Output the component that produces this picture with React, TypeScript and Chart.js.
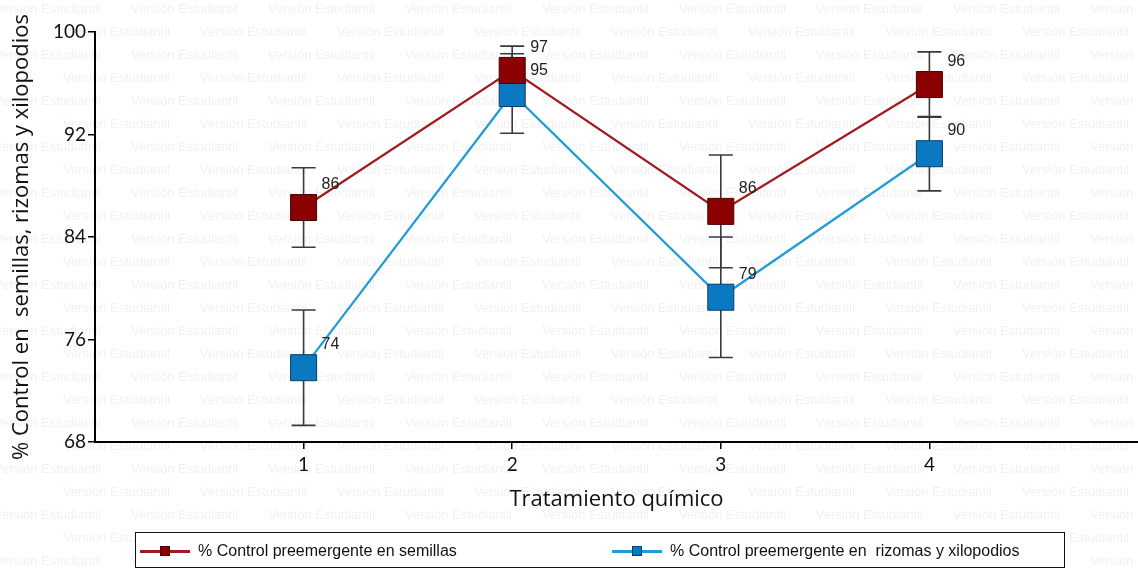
import React, { useEffect, useRef } from "react";
import { Chart, registerables } from "chart.js";

Chart.register(...registerables);

const categories = ["1", "2", "3", "4"];
const seedValues = [86.3, 97.0, 86.0, 95.9];
const seedErrors = [3.1, 1.9, 4.4, 2.55];
const seedLabels = ["86", "97", "86", "96"];
const rhizomeValues = [73.8, 95.2, 79.3, 90.5];
const rhizomeErrors = [4.5, 3.1, 4.7, 2.9];
const rhizomeLabels = ["74", "95", "79", "90"];
const yTicks = [68, 76, 84, 92, 100];
const seriesNames = [
  "% Control preemergente en semillas",
  "% Control preemergente en  rizomas y xilopodios",
];

const RED_LINE = "#a01a1e";
const RED_FILL = "#8b0000";
const RED_BORDER = "#4a0000";
const BLUE_LINE = "#1f9bd5";
const BLUE_FILL = "#0b78c2";
const BLUE_BORDER = "#0a3a66";

const watermarkPlugin = {
  id: "watermark",
  beforeDraw(chart: any) {
    const { ctx, width, height } = chart;
    ctx.save();
    ctx.fillStyle = "#ffffff";
    ctx.fillRect(0, 0, width, height);
    ctx.fillStyle = "#f1f1f1";
    ctx.font = "13px 'Liberation Sans', Arial, sans-serif";
    ctx.textBaseline = "middle";
    let row = 0;
    for (let y = 9; y < height + 20; y += 23) {
      const off = row % 2 === 0 ? -6 : 63;
      for (let x = off; x < width + 140; x += 137) {
        ctx.fillText("Versión Estudiantil", x, y);
      }
      row++;
    }
    ctx.restore();
  },
};

const errorBarPlugin = {
  id: "errorBars",
  beforeDatasetsDraw(chart: any) {
    const { ctx } = chart;
    const yScale = chart.scales.y;
    ctx.save();
    ctx.strokeStyle = "#3a3a3a";
    ctx.lineWidth = 1.6;
    chart.data.datasets.forEach((ds: any, di: number) => {
      const meta = chart.getDatasetMeta(di);
      meta.data.forEach((pt: any, i: number) => {
        const v = ds.data[i].y;
        const e = ds.errors[i];
        const yTop = yScale.getPixelForValue(v + e);
        const yBot = yScale.getPixelForValue(v - e);
        const x = pt.x;
        ctx.beginPath();
        ctx.moveTo(x, yTop);
        ctx.lineTo(x, yBot);
        ctx.moveTo(x - 12, yTop);
        ctx.lineTo(x + 12, yTop);
        ctx.moveTo(x - 12, yBot);
        ctx.lineTo(x + 12, yBot);
        ctx.stroke();
      });
    });
    ctx.restore();
  },
  afterDatasetsDraw(chart: any) {
    const { ctx } = chart;
    ctx.save();
    ctx.fillStyle = "#222";
    ctx.font = "16px 'Liberation Sans', Arial, sans-serif";
    ctx.textAlign = "left";
    ctx.textBaseline = "middle";
    chart.data.datasets.forEach((ds: any, di: number) => {
      const meta = chart.getDatasetMeta(di);
      meta.data.forEach((pt: any, i: number) => {
        ctx.fillText(ds.valueLabels[i], pt.x + 18, pt.y - 23);
      });
    });
    ctx.restore();
  },
};

export default function App() {
  const canvasRef = useRef<HTMLCanvasElement>(null);

  useEffect(() => {
    const canvas = canvasRef.current;
    if (!canvas) return;
    const chart = new Chart(canvas, {
      type: "line",
      data: {
        datasets: [
          {
            label: seriesNames[0],
            data: seedValues.map((v, i) => ({ x: i + 1, y: v })),
            errors: seedErrors,
            valueLabels: seedLabels,
            borderColor: RED_LINE,
            borderWidth: 2.2,
            pointStyle: "rect",
            pointRadius: 18.4,
            pointBackgroundColor: RED_FILL,
            pointBorderColor: RED_BORDER,
            pointBorderWidth: 1,
            tension: 0,
            clip: false,
          } as any,
          {
            label: seriesNames[1],
            data: rhizomeValues.map((v, i) => ({ x: i + 1, y: v })),
            errors: rhizomeErrors,
            valueLabels: rhizomeLabels,
            borderColor: BLUE_LINE,
            borderWidth: 2.2,
            pointStyle: "rect",
            pointRadius: 18.4,
            pointBackgroundColor: BLUE_FILL,
            pointBorderColor: BLUE_BORDER,
            pointBorderWidth: 1,
            tension: 0,
            clip: false,
          } as any,
        ],
      },
      options: {
        animation: false,
        responsive: false,
        maintainAspectRatio: false,
        layout: { autoPadding: false, padding: { top: 32, right: 0, left: 0, bottom: 0 } },
        plugins: {
          legend: { display: false },
          tooltip: { enabled: false },
        },
        scales: {
          x: {
            type: "linear",
            min: 0,
            max: 5,
            afterBuildTicks(scale: any) {
              scale.ticks = categories.map((_, i) => ({ value: i + 1 }));
            },
            afterFit(scale: any) {
              scale.height = 129;
              scale.paddingLeft = 0;
              scale.paddingRight = 0;
            },
            border: { display: true, color: "#000", width: 2 },
            grid: {
              drawOnChartArea: false,
              drawTicks: true,
              tickLength: 7,
              color: "#000",
              lineWidth: 1.5,
            },
            ticks: {
              autoSkip: false,
              maxRotation: 0,
              padding: 4,
              color: "#111",
              font: { family: "Lato, 'Open Sans', sans-serif", size: 19 },
              callback: (v: any) => categories[Number(v) - 1] ?? "",
            },
            title: {
              display: true,
              text: "Tratamiento químico",
              color: "#111",
              font: { family: "'Open Sans', Lato, sans-serif", size: 22 },
              padding: { top: 0, bottom: 58 },
            },
          },
          y: {
            min: 68,
            max: 100,
            afterBuildTicks(scale: any) {
              scale.ticks = yTicks.map((v) => ({ value: v }));
            },
            afterFit(scale: any) {
              scale.width = 95;
            },
            border: { display: true, color: "#000", width: 2 },
            grid: {
              drawOnChartArea: false,
              drawTicks: true,
              tickLength: 7,
              color: "#000",
              lineWidth: 1.5,
            },
            ticks: {
              padding: 2,
              color: "#111",
              font: { family: "Lato, 'Open Sans', sans-serif", size: 19 },
            },
            title: {
              display: true,
              text: "% Control en  semillas, rizomas y xilopodios",
              color: "#111",
              font: { family: "'Open Sans', Lato, sans-serif", size: 22 },
              padding: { top: 9, bottom: 0 },
            },
          },
        },
      },
      plugins: [watermarkPlugin, errorBarPlugin],
    });
    return () => chart.destroy();
  }, []);

  const legendItem = (line: string, fill: string, border: string, text: string, left: number) => (
    <div
      style={{
        position: "absolute",
        left,
        top: 0,
        height: 36,
        display: "flex",
        alignItems: "center",
      }}
    >
      <div style={{ position: "relative", width: 50, height: 12, marginRight: 8 }}>
        <div style={{ position: "absolute", left: 0, right: 0, top: 5, height: 2.5, background: line }} />
        <div
          style={{
            position: "absolute",
            left: 20,
            top: 1,
            width: 10,
            height: 10,
            background: fill,
            boxSizing: "border-box",
            border: `1px solid ${border}`,
          }}
        />
      </div>
      <span style={{ fontFamily: "'Liberation Sans', Arial, sans-serif", fontSize: 16, color: "#111", whiteSpace: "pre" }}>
        {text}
      </span>
    </div>
  );

  return (
    <div style={{ position: "fixed", left: 0, top: 0, width: 1138, height: 571, background: "#fff" }}>
      <canvas ref={canvasRef} width={1138} height={571} style={{ display: "block", width: 1138, height: 571 }} />
      <div
        style={{
          position: "absolute",
          left: 135,
          top: 532,
          width: 930,
          height: 36,
          boxSizing: "border-box",
          border: "1.5px solid #111",
          background: "#fff",
        }}
      >
        {legendItem(RED_LINE, RED_FILL, RED_BORDER, seriesNames[0], 4)}
        {legendItem(BLUE_LINE, BLUE_FILL, BLUE_BORDER, seriesNames[1], 476)}
      </div>
    </div>
  );
}
